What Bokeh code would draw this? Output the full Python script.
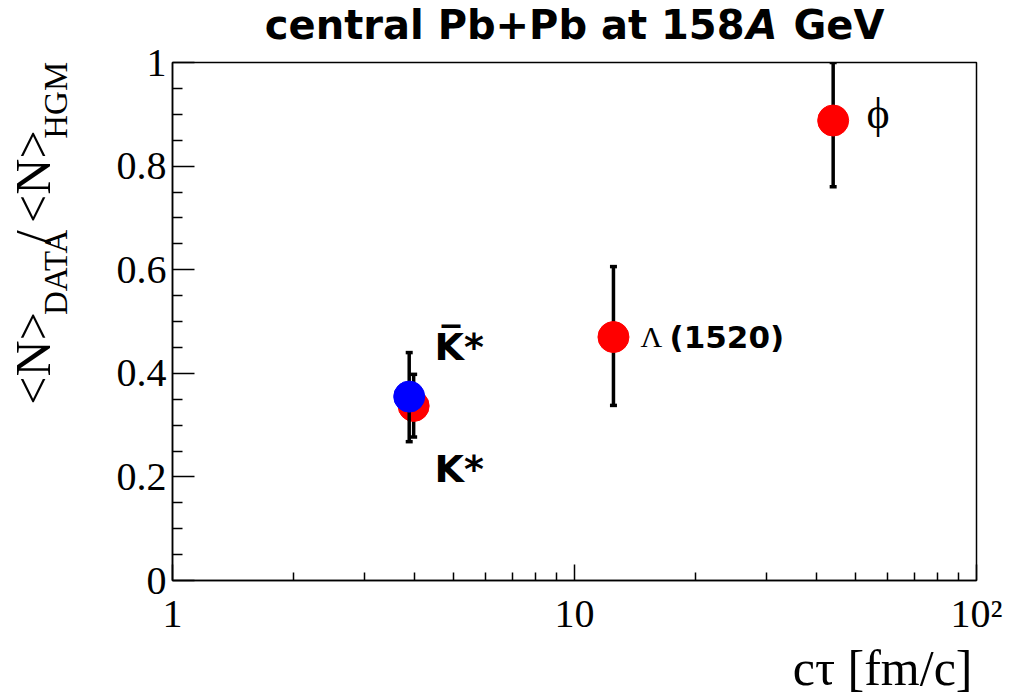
import math

from bokeh.plotting import figure
from bokeh.layouts import column, row
from bokeh.models import FixedTicker, Label
from bokeh.embed import file_html
from bokeh.resources import INLINE

# Resonance yields relative to the hadron-gas model, vs. lifetime cτ
particles = ["K*", "K\u0305*", "\u039b(1520)", "\u03d5"]
ctau = [3.98, 3.88, 12.5, 44.0]            # cτ [fm/c]
ratio = [0.337, 0.355, 0.470, 0.888]        # <N>_DATA / <N>_HGM
ratio_lo = [0.277, 0.268, 0.338, 0.760]     # lower end of error bar
ratio_hi = [0.398, 0.440, 0.606, 1.000]     # upper end of error bar
colors = ["#ff0000", "#0000ff", "#ff0000", "#ff0000"]

x_ticks = [1, 10, 100]
x_minor_ticks = [2, 3, 4, 5, 6, 7, 8, 9, 20, 30, 40, 50, 60, 70, 80, 90]
x_tick_labels = {1: "1", 10: "10", 100: "10\u00b2"}
y_ticks = [0, 0.2, 0.4, 0.6, 0.8, 1.0]
y_minor_ticks = [0.05, 0.1, 0.15, 0.25, 0.3, 0.35, 0.45, 0.5, 0.55,
                 0.65, 0.7, 0.75, 0.85, 0.9, 0.95]

W, H = 1009, 696
TITLE_H = 48          # strip holding the title
XLAB_H = 58           # strip holding the x-axis title
YLAB_W = 100          # strip holding the y-axis title
MAIN_H = H - TITLE_H - XLAB_H
MAIN_W = W - YLAB_W
FL, FR, FT, FB = 172, 976, 62, 582   # plot frame edges on the page

SERIF = "Liberation Serif"
SANS = "DejaVu Sans"
DY = 15               # baseline correction for labels in the frame

p = figure(width=MAIN_W, height=MAIN_H, x_axis_type="log",
           x_range=(1, 100), y_range=(0, 1),
           output_backend="svg", toolbar_location=None,
           min_border_left=FL - YLAB_W, min_border_right=W - FR,
           min_border_top=FT - TITLE_H, min_border_bottom=TITLE_H + MAIN_H - FB)
p.background_fill_color = "white"
p.border_fill_color = "white"
p.outline_line_color = "black"
p.outline_line_width = 1.5
p.grid.visible = False

p.xaxis.ticker = FixedTicker(ticks=x_ticks, minor_ticks=x_minor_ticks)
p.xaxis.major_label_overrides = x_tick_labels
p.yaxis.ticker = FixedTicker(ticks=y_ticks, minor_ticks=y_minor_ticks)
p.yaxis.major_label_overrides = {0: "0", 1: "1", 0.2: "0.2", 0.4: "0.4",
                                 0.6: "0.6", 0.8: "0.8"}

for ax in (p.xaxis[0], p.yaxis[0]):
    ax.axis_line_color = "black"
    ax.axis_line_width = 1.5
    ax.major_tick_line_color = "black"
    ax.minor_tick_line_color = "black"
    ax.major_tick_line_width = 1.5
    ax.minor_tick_line_width = 1.5
    ax.major_tick_out = 0
    ax.minor_tick_out = 0
    ax.major_label_text_font = SERIF
    ax.major_label_text_font_size = "40px"
    ax.major_label_text_color = "black"

p.xaxis.major_tick_in = 16
p.xaxis.minor_tick_in = 8
p.xaxis.major_label_standoff = 10
p.yaxis.major_tick_in = 22
p.yaxis.minor_tick_in = 10
p.yaxis.major_label_standoff = 6

# error bars, caps and markers, point by point so that later points sit on top
for i in range(len(ctau)):
    xs = [ctau[i]]
    p.segment(x0=xs, y0=[ratio_lo[i]], x1=xs, y1=[ratio_hi[i]],
              line_color="black", line_width=3.5)
    p.scatter(x=xs + xs, y=[ratio_lo[i], ratio_hi[i]], marker="dash", size=7,
              line_color="black", line_width=3.5)
    p.scatter(x=xs, y=[ratio[i]], marker="circle", size=31,
              fill_color=colors[i], line_color=colors[i])


def label_in_frame(s, px, py, font, size, style="normal", align="left"):
    p.add_layout(Label(x=px - FL, y=FB - py + DY, x_units="screen", y_units="screen",
                       text=s, text_font=font, text_font_size=f"{size}px",
                       text_font_style=style, text_color="black",
                       text_align=align, text_baseline="alphabetic"))


# particle names next to the points
label_in_frame(particles[1], 434, 363, SANS, 38, "bold")
label_in_frame(particles[0], 434, 485, SANS, 38, "bold")
label_in_frame(particles[2][0], 640, 353, SERIF, 30)
label_in_frame(particles[2][1:], 669, 353, SANS, 31, "bold")
label_in_frame(particles[3], 866, 130, SERIF, 44)


def strip(w, h):
    f = figure(width=w, height=h, x_range=(0, w), y_range=(0, h),
               output_backend="svg", toolbar_location=None,
               x_axis_location=None, y_axis_location=None, min_border=0)
    f.outline_line_color = None
    f.grid.visible = False
    f.background_fill_color = "white"
    f.border_fill_color = "white"
    return f


def put(f, top, s, px, py, font, size, style="normal", angle=0.0, align="center"):
    # (px, py) is the middle of the text box, in page pixels
    h = f.height
    f.add_layout(Label(x=px, y=h - (py - top), text=s, text_font=font,
                       text_font_size=f"{size}px", text_font_style=style,
                       text_color="black", angle=angle, text_align=align,
                       text_baseline="middle"))


# title
t = strip(W, TITLE_H)
put(t, 0, "central Pb+Pb at 158", 744, 24.5, SANS, 40, "bold", align="right")
put(t, 0, "A", 746, 24.5, SANS, 40, "bold italic", align="left")
put(t, 0, "GeV", 793, 24.5, SANS, 40, "bold", align="left")

# y-axis title, read bottom to top
yl = strip(YLAB_W, MAIN_H)
up = math.pi / 2
put(yl, TITLE_H, "<N>", 32, 385, SERIF, 50, angle=up)
put(yl, TITLE_H, "DATA", 55, 287, SERIF, 33, angle=up)
put(yl, TITLE_H, "/", 32, 247, SERIF, 50, angle=up)
put(yl, TITLE_H, "<N>", 32, 178, SERIF, 50, angle=up)
put(yl, TITLE_H, "HGM", 55, 91, SERIF, 33, angle=up)

# x-axis title
xl = strip(W, XLAB_H)
put(xl, H - XLAB_H, "c\u03c4 [fm/c]", 972, 667, SERIF, 50, align="right")

page = column(t, row(yl, p), xl)
open("out.html", "w").write(file_html(page, INLINE))
